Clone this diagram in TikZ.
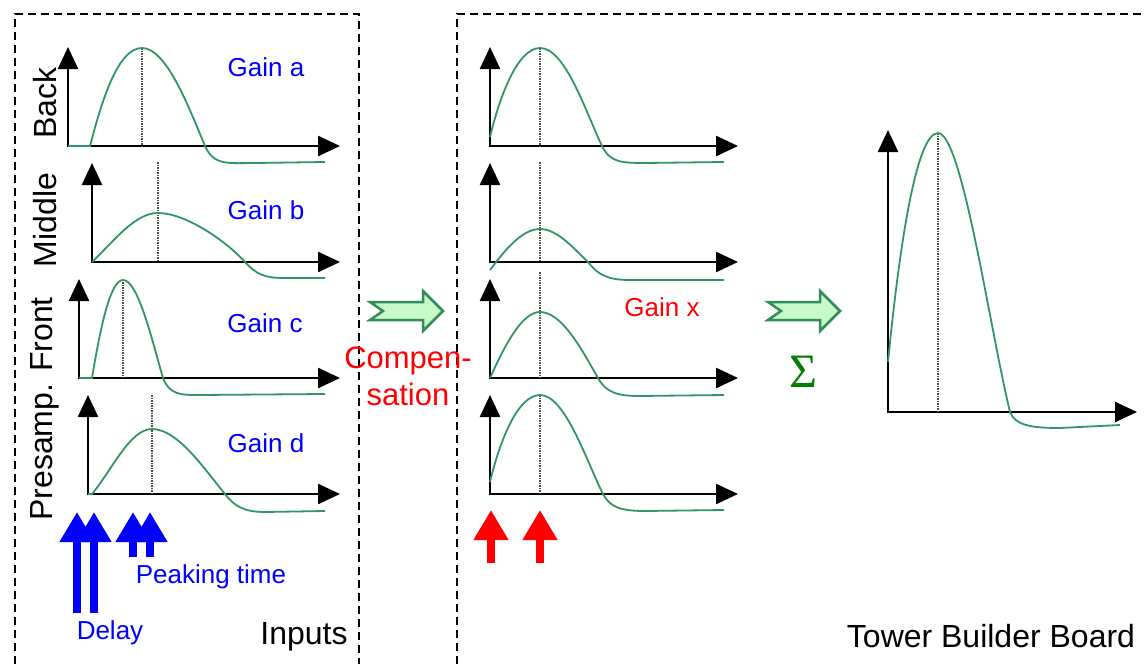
\documentclass[tikz,border=0pt]{standalone}
\usepackage{fontspec}
\setmainfont{Liberation Sans}
\newfontfamily\sigmafont{Liberation Serif}
\usetikzlibrary{arrows.meta}

\definecolor{pulsegreen}{RGB}{50,150,100}
\definecolor{fatfill}{RGB}{200,250,200}
\definecolor{fatline}{RGB}{50,140,90}
\definecolor{sumgreen}{RGB}{0,128,0}

\tikzset{
  axis/.style={line width=2.5pt,{Triangle[length=22pt,width=20pt]}-{Triangle[length=22pt,width=20pt]}},
  pulse/.style={pulsegreen,line width=1.8pt},
  peak/.style={densely dotted,line width=1.5pt,black!70},
  frame/.style={dash pattern=on 8pt off 5pt,line width=2pt},
  fat/.style={fill=fatfill,draw=fatline,line width=2.5pt},
  marker/.style={line width=8pt,-{Triangle[length=30pt,width=33pt]}},
  gain/.style={blue,font=\fontsize{26}{30}\selectfont},
  layer/.style={rotate=90,font=\fontsize{32}{36}\selectfont},
}

\begin{document}
\begin{tikzpicture}[x=1pt,y=-1pt]
\useasboundingbox (0,0) rectangle (1144,664);
\fill[white] (0,0) rectangle (1144,664);
% the two boards
\draw[frame] (15,664) -- (15,14) -- (359,14) -- (359,664);
\draw[frame] (457,664) -- (457,14) -- (1144,14);
% input axes, peaks and pulses
\foreach \x/\b in {68/146,92/262,79/378,88/494}
  \draw[axis] (\x,\b-99) -- (\x,\b) -- (340,\b);
\foreach \x/\t/\b in {142/48/146,158/162/262,123/282/378,152/395/494}
  \draw[peak] (\x,\t) -- (\x,\b);
\draw[pulse] (68,146) -- (90,146) .. controls (102,100) and (118,48) .. (142,48)
  .. controls (166,48) and (188,105) .. (205,146) .. controls (214,166) and (228,163) .. (255,163) -- (325,162);
\draw[pulse] (92,262) .. controls (115,240) and (135,213) .. (158,213)
  .. controls (185,213) and (225,240) .. (245,262) .. controls (257,275) and (265,278) .. (285,278) -- (325,278);
\draw[pulse] (79,378) -- (92,378) .. controls (100,330) and (110,280) .. (123,280)
  .. controls (138,280) and (152,340) .. (163,378) .. controls (170,395) and (180,395) .. (200,395) -- (325,394);
\draw[pulse] (88,494) -- (92,494) .. controls (112,470) and (130,429) .. (152,429)
  .. controls (178,429) and (205,470) .. (225,494) .. controls (235,507) and (245,512) .. (265,512) -- (325,511);
% compensated pulses, all peaking together
\foreach \b in {146,262,378,494}
  \draw[axis] (490,\b-99) -- (490,\b) -- (738,\b);
\foreach \t/\b in {48/146,162/262,272/378,395/494}
  \draw[peak] (540,\t) -- (540,\b);
\draw[pulse] (490,137) .. controls (500,95) and (518,48) .. (540,48)
  .. controls (565,48) and (585,110) .. (602,146) .. controls (610,162) and (620,163) .. (645,163) -- (724,162);
\draw[pulse] (490,270) .. controls (505,250) and (522,229) .. (540,229)
  .. controls (558,229) and (575,250) .. (588,262) .. controls (598,275) and (608,280) .. (630,280) -- (724,280);
\draw[pulse] (490,378) .. controls (505,345) and (522,312) .. (540,312)
  .. controls (562,312) and (582,350) .. (598,378) .. controls (606,392) and (616,396) .. (640,396) -- (724,395);
\draw[pulse] (490,482) .. controls (500,440) and (518,395) .. (540,395)
  .. controls (565,395) and (586,460) .. (603,494) .. controls (610,507) and (620,511) .. (645,511) -- (724,510);
% summed tower pulse
\draw[axis] (888,130) -- (888,412) -- (1137,412);
\draw[peak] (938,133) -- (938,412);
\draw[pulse] (888,362) .. controls (898,260) and (915,133) .. (938,133)
  .. controls (962,133) and (990,330) .. (1010,412) .. controls (1015,425) and (1030,428) .. (1060,428) -- (1120,425);
% fat arrows
\draw[fat] (370,302) -- (423,302) -- (423,291) -- (443,311) -- (423,331) -- (423,320) -- (370,320) -- (383,311) -- cycle;
\draw[fat] (768,302) -- (820,302) -- (820,291) -- (840,311) -- (820,331) -- (820,320) -- (768,320) -- (781,311) -- cycle;
% delay and peaking markers
\foreach \x/\b in {77/613,94/613,133/557,150/557}
  \draw[marker,blue] (\x,\b) -- (\x,512);
\foreach \x in {491,540}
  \draw[marker,red] (\x,563) -- (\x,510);
% labels
\node[layer] (back) at (45,103) {Back};
\node[layer] (middle) at (45,220) {Middle};
\node[layer] (front) at (45,409) {Presamp. Front};
\node[gain] (gaina) at (266,67) {Gain a};
\node[gain] (gainb) at (266,210) {Gain b};
\node[gain] (gainc) at (265,323) {Gain c};
\node[gain] (gaind) at (266,443) {Gain d};
\node[gain,red] (gainx) at (662,307) {Gain x};
\node[gain] (peaking) at (211,577) {Peaking time};
\node[gain] (delay) at (110,633) {Delay};
\node[font=\fontsize{32}{36}\selectfont] (inputs) at (304,637) {Inputs};
\node[red,align=center,font=\fontsize{31}{37}\selectfont] (comp) at (408,376) {Compen-\\sation};
\node[font=\fontsize{32}{36}\selectfont] (tbb) at (991,636) {Tower Builder Board};
\node[sumgreen,font=\sigmafont\fontsize{48}{52}\selectfont] (sum) at (803,372) {Σ};
\end{tikzpicture}
\end{document}
